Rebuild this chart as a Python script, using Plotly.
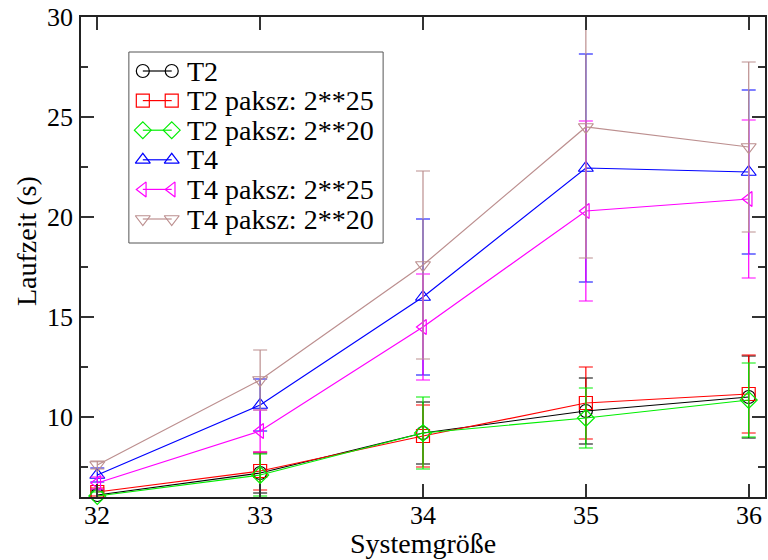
import plotly.graph_objects as go

# ---- data ----
sizes = [32, 33, 34, 35, 36]

t2 = [6.1, 7.2, 9.2, 10.3, 11.0]
t2_err = [0.25, 1.0, 1.55, 1.65, 2.05]

t2_p25 = [6.25, 7.3, 9.05, 10.7, 11.15]
t2_p25_err = [0.2, 0.95, 1.55, 1.8, 1.95]

t2_p20 = [6.05, 7.1, 9.2, 9.95, 10.85]
t2_p20_err = [0.2, 1.05, 1.8, 1.5, 1.85]

t4 = [7.1, 10.6, 16.0, 22.45, 22.25]
t4_err = [0.35, 1.3, 3.9, 5.7, 4.1]

t4_p25 = [6.7, 9.3, 14.5, 20.3, 20.9]
t4_p25_err = [0.3, 1.05, 2.65, 4.5, 3.95]

t4_p20 = [7.6, 11.85, 17.6, 24.5, 23.5]
t4_p20_err = [0.2, 1.5, 4.7, 6.55, 4.25]

series_names = ["T2", "T2 paksz: 2**25", "T2 paksz: 2**20",
                "T4", "T4 paksz: 2**25", "T4 paksz: 2**20"]

x_tick_vals = [32, 33, 34, 35, 36]
x_tick_text = ["32", "33", "34", "35", "36"]
y_tick_vals = [10, 15, 20, 25, 30]
y_tick_text = ["10", "15", "20", "25", "30"]

x_title = "Systemgröße"
y_title = "Laufzeit (s)"

# ---- styles ----
series = [
    (t2, t2_err, "#000000", "circle-open"),
    (t2_p25, t2_p25_err, "#ff0000", "square-open"),
    (t2_p20, t2_p20_err, "#00ee00", "diamond-open"),
    (t4, t4_err, "#0000ff", "triangle-up-open"),
    (t4_p25, t4_p25_err, "#ff00ff", "triangle-left-open"),
    (t4_p20, t4_p20_err, "#bc8f8f", "triangle-down-open"),
]

FONT = "Liberation Serif"
TICK_SIZE = 26
TEXT_SIZE = 28

# legend layout in plot-pixel coordinates (plot area: x 81..767, y 17..497)
PLOT_X = [81, 767]
PLOT_Y = [497, 17]
LEG_BOX = (129, 52, 384, 243)      # x0, y0, x1, y1
LEG_ROW0, LEG_ROW_STEP = 71, 29.6
LEG_SYM_X = (143, 172)
LEG_TEXT_X = 185

fig = go.Figure()
for name, (vals, errs, color, sym) in zip(series_names, series):
    fig.add_trace(go.Scatter(
        x=sizes, y=vals, name=name, mode="lines+markers",
        line=dict(color=color, width=1.2),
        marker=dict(symbol=sym, size=13, color=color,
                    line=dict(color=color, width=1.2)),
        error_y=dict(type="data", array=errs, visible=True,
                     color=color, thickness=1.2, width=7),
        cliponaxis=False, showlegend=False,
    ))

# custom legend (marker - line - marker samples like the original)
x0, y0, x1, y1 = LEG_BOX
fig.add_shape(type="rect", xref="x2", yref="y2", x0=x0, y0=y0, x1=x1, y1=y1,
              line=dict(color="#555555", width=1), fillcolor="white", layer="below")
annotations = []
for i, (name, (vals, errs, color, sym)) in enumerate(zip(series_names, series)):
    ry = LEG_ROW0 + i * LEG_ROW_STEP
    fig.add_trace(go.Scatter(
        x=list(LEG_SYM_X), y=[ry, ry], xaxis="x2", yaxis="y2",
        mode="lines+markers", line=dict(color=color, width=1.2),
        marker=dict(symbol=sym, size=13, color=color, line=dict(color=color, width=1.2)),
        showlegend=False, hoverinfo="skip", cliponaxis=False,
    ))
    annotations.append(dict(x=LEG_TEXT_X, y=ry, xref="x2", yref="y2", text=name,
                            showarrow=False, xanchor="left", yanchor="middle",
                            font=dict(family=FONT, size=TEXT_SIZE, color="black")))

# tick labels (as text, so that the serif font is used)
for v, t in zip(x_tick_vals, x_tick_text):
    annotations.append(dict(x=v, y=0, xref="x", yref="paper", text=t, showarrow=False,
                            xanchor="center", yanchor="middle", yshift=-18,
                            font=dict(family=FONT, size=TICK_SIZE, color="black")))
for v, t in zip(y_tick_vals, y_tick_text):
    annotations.append(dict(x=0, y=v, xref="paper", yref="y", text=t, showarrow=False,
                            xanchor="right", yanchor="middle", xshift=-6,
                            font=dict(family=FONT, size=TICK_SIZE, color="black")))
# axis titles
annotations.append(dict(x=0.5, y=0, xref="paper", yref="paper", text=x_title,
                        showarrow=False, xanchor="center", yanchor="middle", yshift=-46,
                        font=dict(family=FONT, size=TEXT_SIZE, color="black")))
annotations.append(dict(x=0, y=0.5, xref="paper", yref="paper", text=y_title,
                        showarrow=False, textangle=-90, xanchor="center", yanchor="middle",
                        xshift=-55, yshift=16,
                        font=dict(family=FONT, size=TEXT_SIZE, color="black")))

axis_common = dict(
    showline=True, linecolor="#222222", linewidth=2, mirror="allticks",
    ticks="inside", ticklen=13, tickwidth=1.5, tickcolor="#333333",
    showgrid=False, zeroline=False, showticklabels=False,
)

fig.update_layout(
    width=768, height=560,
    margin=dict(l=81, r=1, t=17, b=63),
    paper_bgcolor="white", plot_bgcolor="white",
    font=dict(family=FONT, size=TEXT_SIZE, color="black"),
    xaxis=dict(range=[31.9, 36.1], tickmode="linear", tick0=32, dtick=1,
               **axis_common),
    yaxis=dict(range=[6, 30], tickmode="linear", tick0=0, dtick=5,
               minor=dict(ticks="inside", ticklen=7, tickwidth=1.5,
                          tickcolor="#333333", tickmode="linear", tick0=0, dtick=2.5),
               **axis_common),
    xaxis2=dict(range=PLOT_X, overlaying="x", visible=False, fixedrange=True),
    yaxis2=dict(range=PLOT_Y, overlaying="y", visible=False, fixedrange=True),
    annotations=annotations,
    showlegend=False,
)

fig.write_html("out.html")
